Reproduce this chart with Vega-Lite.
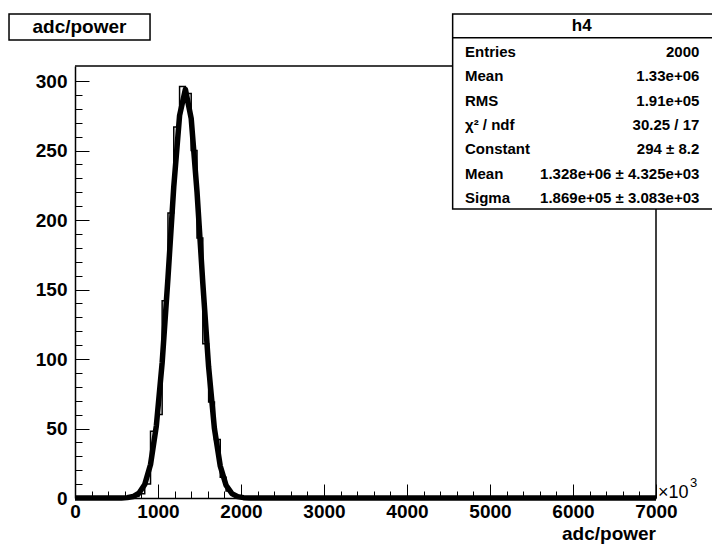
{
  "$schema": "https://vega.github.io/schema/vega-lite/v6.json",
  "width": 581,
  "height": 432,
  "autosize": {"type": "none"},
  "padding": {"left": 75, "top": 66, "right": 56, "bottom": 46},
  "background": "white",
  "config": {
    "view": {"stroke": null},
    "font": "Liberation Sans",
    "text": {"font": "Liberation Sans", "fontWeight": "bold", "color": "black"}
  },
  "datasets": {
    "hist": [
      {"x": 0, "count": 0}, {"x": 630, "count": 1}, {"x": 700, "count": 1}, {"x": 770, "count": 3},
      {"x": 840, "count": 10}, {"x": 910, "count": 48}, {"x": 980, "count": 60}, {"x": 1050, "count": 142},
      {"x": 1120, "count": 205}, {"x": 1190, "count": 267}, {"x": 1260, "count": 296}, {"x": 1330, "count": 291},
      {"x": 1400, "count": 250}, {"x": 1470, "count": 187}, {"x": 1540, "count": 111}, {"x": 1610, "count": 69},
      {"x": 1680, "count": 42}, {"x": 1750, "count": 15}, {"x": 1820, "count": 5}, {"x": 1890, "count": 2},
      {"x": 1960, "count": 1}, {"x": 2030, "count": 0}, {"x": 7000, "count": 0}
    ],
    "fit": [
      {"x": 0, "y": 0}, {"x": 490, "y": 0.01}, {"x": 560, "y": 0.06}, {"x": 630, "y": 0.27},
      {"x": 700, "y": 1.04}, {"x": 770, "y": 3.41}, {"x": 840, "y": 9.73}, {"x": 910, "y": 24.1},
      {"x": 980, "y": 51.9}, {"x": 1050, "y": 97.3}, {"x": 1120, "y": 158.3}, {"x": 1190, "y": 223.9},
      {"x": 1260, "y": 275.2}, {"x": 1330, "y": 294.0}, {"x": 1400, "y": 273.0}, {"x": 1470, "y": 220.3},
      {"x": 1540, "y": 154.5}, {"x": 1610, "y": 94.2}, {"x": 1680, "y": 49.9}, {"x": 1750, "y": 23.0},
      {"x": 1820, "y": 9.2}, {"x": 1890, "y": 3.2}, {"x": 1960, "y": 0.97}, {"x": 2030, "y": 0.25},
      {"x": 2100, "y": 0.06}, {"x": 2170, "y": 0.01}, {"x": 7000, "y": 0}
    ],
    "stats": [
      {"row": 0, "label": "Entries", "value": "2000"},
      {"row": 1, "label": "Mean", "value": "1.33e+06"},
      {"row": 2, "label": "RMS", "value": "1.91e+05"},
      {"row": 3, "label": "χ² / ndf", "value": "30.25 / 17"},
      {"row": 4, "label": "Constant", "value": "294 ± 8.2"},
      {"row": 5, "label": "Mean", "value": "1.328e+06 ± 4.325e+03"},
      {"row": 6, "label": "Sigma", "value": "1.869e+05 ± 3.083e+03"}
    ],
    "one": [{}]
  },
  "resolve": {"scale": {"y": "independent"}},
  "layer": [
    {
      "layer": [
        {
          "data": {"name": "hist"},
          "mark": {"type": "line", "interpolate": "step-after", "color": "black", "strokeWidth": 1.5},
          "encoding": {
            "x": {
              "field": "x", "type": "quantitative",
              "scale": {"domain": [0, 7000], "nice": false, "zero": false},
              "axis": {
                "orient": "bottom",
                "title": null,
                "values": [0, 1000, 2000, 3000, 4000, 5000, 6000, 7000],
                "format": "d",
                "labelOverlap": false,
                "labelBound": false,
                "labelFlush": false,
                "tickSize": -14,
                "tickColor": "black",
                "tickWidth": 1,
                "labelPadding": 18,
                "labelFont": "Liberation Sans",
                "labelFontWeight": "bold",
                "labelFontSize": 19,
                "labelColor": "black",
                "domainColor": "black",
                "domainWidth": 1.5,
                "grid": false
              }
            },
            "y": {
              "field": "count", "type": "quantitative",
              "scale": {"domain": [0, 310.8], "nice": false},
              "axis": {
                "orient": "left",
                "title": null,
                "values": [0, 50, 100, 150, 200, 250, 300],
                "labelOverlap": false,
                "labelBound": false,
                "labelFlush": false,
                "tickSize": -14,
                "tickColor": "black",
                "tickWidth": 1,
                "labelPadding": 22,
                "labelFont": "Liberation Sans",
                "labelFontWeight": "bold",
                "labelFontSize": 19,
                "labelColor": "black",
                "domainColor": "black",
                "domainWidth": 1.5,
                "grid": false
              }
            }
          }
        },
        {
          "data": {"name": "fit"},
          "mark": {"type": "line", "color": "black", "strokeWidth": 5.5, "strokeJoin": "round"},
          "encoding": {
            "x": {
              "field": "x", "type": "quantitative",
              "axis": {
                "orient": "top",
                "offset": -432,
                "title": null,
                "values": [200,400,600,800,1200,1400,1600,1800,2200,2400,2600,2800,3200,3400,3600,3800,4200,4400,4600,4800,5200,5400,5600,5800,6200,6400,6600,6800],
                "labels": false,
                "domain": false,
                "grid": false,
                "tickSize": 7,
                "tickColor": "black",
                "tickWidth": 1
              }
            },
            "y": {
              "field": "y", "type": "quantitative",
              "axis": {
                "orient": "right",
                "offset": -581,
                "title": null,
                "values": [10,20,30,40,60,70,80,90,110,120,130,140,160,170,180,190,210,220,230,240,260,270,280,290],
                "labels": false,
                "domain": false,
                "grid": false,
                "tickSize": 7,
                "tickColor": "black",
                "tickWidth": 1
              }
            }
          }
        },
        {
          "data": {"name": "one"},
          "mark": {"type": "rule", "color": "black", "strokeWidth": 1.5},
          "encoding": {"x": {"datum": 7000, "axis": null}, "y": {"datum": 0, "axis": null}, "y2": {"datum": 310.8}}
        },
        {
          "data": {"name": "one"},
          "mark": {"type": "rule", "color": "black", "strokeWidth": 1.5},
          "encoding": {"y": {"datum": 310.8, "axis": null}, "x": {"datum": 0, "axis": null}, "x2": {"datum": 7000}}
        },
        {
          "data": {"name": "one"},
          "mark": {"type": "rect", "fill": "white", "stroke": "black", "strokeWidth": 1.5},
          "encoding": {"x": {"datum": -795, "axis": null}, "x2": {"datum": 904}, "y": {"datum": 348.2, "axis": null}, "y2": {"datum": 329.5}}
        },
        {
          "data": {"name": "one"},
          "mark": {"type": "text", "text": "adc/power", "fontSize": 19, "align": "center", "baseline": "middle"},
          "encoding": {"x": {"datum": 54, "axis": null}, "y": {"datum": 338.9, "axis": null}}
        },
        {
          "data": {"name": "one"},
          "mark": {"type": "text", "text": "adc/power", "fontSize": 19, "align": "right", "baseline": "alphabetic", "dy": 42},
          "encoding": {"x": {"datum": 7000, "axis": null}, "y": {"datum": 0, "axis": null}}
        },
        {
          "data": {"name": "one"},
          "mark": {"type": "text", "text": "×10", "fontSize": 18, "fontWeight": "normal", "align": "left", "baseline": "alphabetic", "dx": 2, "dy": 0},
          "encoding": {"x": {"datum": 7000, "axis": null}, "y": {"datum": 0, "axis": null}}
        },
        {
          "data": {"name": "one"},
          "mark": {"type": "text", "text": "3", "fontSize": 13, "fontWeight": "normal", "align": "left", "baseline": "alphabetic", "dx": 34, "dy": -11},
          "encoding": {"x": {"datum": 7000, "axis": null}, "y": {"datum": 0, "axis": null}}
        },
        {
          "data": {"name": "one"},
          "mark": {"type": "rect", "fill": "white", "stroke": "black", "strokeWidth": 1.5},
          "encoding": {"x": {"datum": 4550, "axis": null}, "x2": {"datum": 7700}, "y": {"datum": 348.2, "axis": null}, "y2": {"datum": 207.9}}
        },
        {
          "data": {"name": "one"},
          "mark": {"type": "rule", "color": "black", "strokeWidth": 1.5},
          "encoding": {"y": {"datum": 331.2, "axis": null}, "x": {"datum": 4550, "axis": null}, "x2": {"datum": 7700}}
        },
        {
          "data": {"name": "one"},
          "mark": {"type": "text", "text": "h4", "fontSize": 17, "align": "center", "baseline": "middle"},
          "encoding": {"x": {"datum": 6105, "axis": null}, "y": {"datum": 339.6, "axis": null}}
        }
      ]
    },
    {
      "data": {"name": "stats"},
      "mark": {"type": "text", "fontSize": 15, "align": "left", "baseline": "middle"},
      "encoding": {
        "x": {"datum": 4699, "axis": null},
        "y": {"field": "row", "type": "quantitative", "scale": {"domain": [0.585, 18.268], "reverse": true, "nice": false, "zero": false}, "axis": null},
        "text": {"field": "label"}
      }
    },
    {
      "data": {"name": "stats"},
      "mark": {"type": "text", "fontSize": 15, "align": "right", "baseline": "middle"},
      "encoding": {
        "x": {"datum": 7522, "axis": null},
        "y": {"field": "row", "type": "quantitative", "scale": {"domain": [0.585, 18.268], "reverse": true, "nice": false, "zero": false}, "axis": null},
        "text": {"field": "value"}
      }
    }
  ]
}
